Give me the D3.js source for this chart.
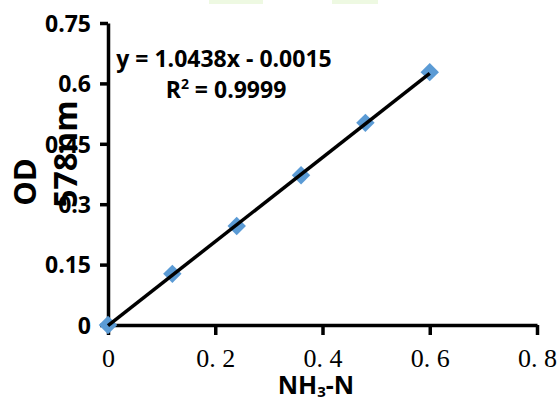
<!DOCTYPE html>
<html><head><meta charset="utf-8">
<script src="https://cdn.jsdelivr.net/npm/d3@7"></script>
<style>body{margin:0;background:#fff}svg{display:block}</style>
</head><body>
<script>
const xValues = [0, 0.12, 0.24, 0.36, 0.48, 0.6];
const yValues = [0, 0.127, 0.246, 0.372, 0.502, 0.628];
const xTicks = [0, 0.2, 0.4, 0.6, 0.8];
const yTicks = [0, 0.15, 0.3, 0.45, 0.6, 0.75];
const yTickLabels = ["0", "0.15", "0.3", "0.45", "0.6", "0.75"];
const xTickLabels = ["0", "0. 2", "0. 4", "0. 6", "0. 8"];
const slope = 1.0438, intercept = -0.0015;
const fitRange = [0, 0.6];

const W = 558, H = 401;
const svg = d3.select("body").append("svg").attr("width", W).attr("height", H);

// faint decorative green marks at top
svg.append("rect").attr("x", 209).attr("y", 0).attr("width", 54).attr("height", 4).attr("fill", "#eef9e2");
svg.append("rect").attr("x", 332).attr("y", 0).attr("width", 46).attr("height", 4).attr("fill", "#eef9e2");

const x = d3.scaleLinear().domain([0, 0.8]).range([108, 537]);
const y = d3.scaleLinear().domain([0, 0.75]).range([325, 23]);

const xAxis = svg.append("g").attr("transform", `translate(0,${y(0)})`)
  .call(d3.axisBottom(x).tickValues(xTicks).tickSize(10).tickSizeOuter(0)
    .tickFormat((d, i) => xTickLabels[i]));
xAxis.select(".domain").attr("stroke", "#000").attr("stroke-width", 3.5);
xAxis.selectAll(".tick line").attr("stroke", "#000").attr("stroke-width", 3.5);
xAxis.selectAll(".tick text").attr("font-family", "'Liberation Serif', serif")
  .attr("font-size", 26).attr("fill", "#000").attr("dy", null).attr("y", 42);

const yAxis = svg.append("g").attr("transform", `translate(${x(0)},0)`)
  .call(d3.axisLeft(y).tickValues(yTicks).tickSize(8).tickSizeOuter(0)
    .tickFormat((d, i) => yTickLabels[i]));
yAxis.select(".domain").attr("stroke", "#000").attr("stroke-width", 3.5);
yAxis.selectAll(".tick line").attr("stroke", "#000").attr("stroke-width", 3.5);
yAxis.selectAll(".tick text").attr("font-family", "'Open Sans', sans-serif")
  .attr("font-weight", "bold").attr("font-size", 23).attr("fill", "#000")
  .attr("x", -17).attr("dy", "0.36em");

// markers
const sym = d3.symbol().type(d3.symbolSquare).size(170);
svg.append("g").selectAll("path").data(xValues).join("path")
  .attr("d", sym)
  .attr("transform", (d, i) => `translate(${x(d)},${y(yValues[i])}) rotate(45)`)
  .attr("fill", "#5b9bd5");

// trendline
svg.append("line")
  .attr("x1", x(fitRange[0])).attr("y1", y(slope * fitRange[0] + intercept))
  .attr("x2", x(fitRange[1])).attr("y2", y(slope * fitRange[1] + intercept))
  .attr("stroke", "#000").attr("stroke-width", 3.5);

// equation
const eq = svg.append("g").attr("font-family", "'Open Sans', sans-serif")
  .attr("font-weight", "bold").attr("font-size", 23).attr("fill", "#000")
  .attr("text-anchor", "middle");
eq.append("text").attr("x", 224).attr("y", 67).text("y = 1.0438x - 0.0015");
const r2 = eq.append("text").attr("x", 226).attr("y", 98);
r2.append("tspan").text("R");
r2.append("tspan").attr("font-size", 14).attr("dy", -9).text("2");
r2.append("tspan").attr("dy", 9).text(" = 0.9999");

// axis titles
svg.append("text").attr("transform", "translate(36,182) rotate(-90)")
  .attr("text-anchor", "middle").attr("font-family", "'Open Sans', sans-serif")
  .attr("font-weight", "bold").attr("font-size", 31).text("OD");
svg.append("text").attr("transform", "translate(77,154) rotate(-90)")
  .attr("text-anchor", "middle").attr("font-family", "'Open Sans', sans-serif")
  .attr("font-weight", "bold").attr("font-size", 32).text("578nm");

const xt = svg.append("text").attr("x", 316).attr("y", 394)
  .attr("text-anchor", "middle").attr("font-family", "'Open Sans', sans-serif")
  .attr("font-weight", "bold").attr("font-size", 25);
xt.append("tspan").text("NH");
xt.append("tspan").attr("font-size", 15).attr("dy", 3).text("3");
xt.append("tspan").attr("dy", -3).text("-N");
</script>
</body></html>
